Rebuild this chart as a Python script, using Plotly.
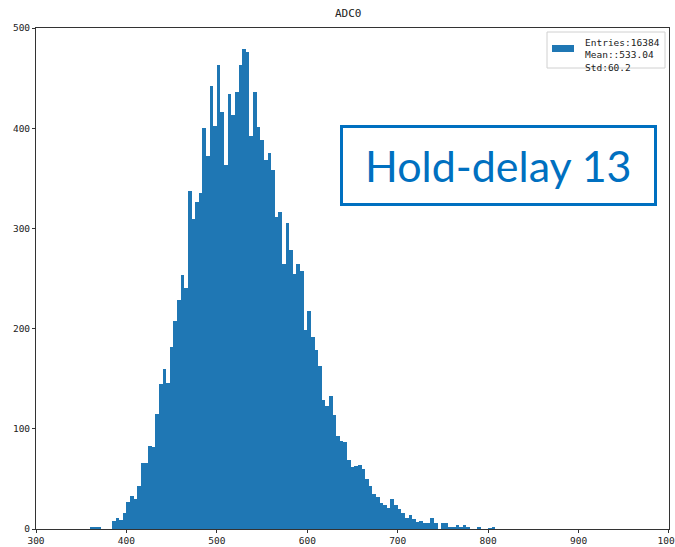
import plotly.graph_objects as go

# Histogram data (ADC0)
bin_start = 360
bin_width = 4
counts = [2, 2, 2, 0, 0, 0,
          8, 11, 9, 16, 27, 33, 30, 43, 66, 66, 83, 82, 115, 145, 160, 146,
          182, 208, 229, 254, 241, 337, 309, 326, 335, 400, 372, 442, 402, 463,
          416, 363, 434, 413, 436, 463, 479, 476, 392, 436, 401, 388, 368, 375,
          358, 311, 316, 264, 305, 278, 255, 264, 257, 199, 218, 192, 179, 163,
          129, 123, 133, 114, 93, 88, 87, 69, 62, 63, 64, 60, 50, 43, 35, 32,
          26, 24, 21, 30, 24, 20, 16, 11, 14, 10, 7, 8, 6, 6, 11, 6, 0, 6, 6,
          2, 2, 4, 2, 4, 2, 0, 0, 2, 0, 0, 1, 2]
centers = [bin_start + bin_width * (i + 0.5) for i in range(len(counts))]

title = "ADC0"
legend_lines = ["Entries:16384", "Mean::533.04", "Std:60.2"]
box_text = "Hold-delay 13"
x_ticks = [300, 400, 500, 600, 700, 800, 900, 1000]
y_ticks = [0, 100, 200, 300, 400, 500]

BLUE = "#1f77b4"
MONO = "DejaVu Sans Mono"

fig = go.Figure()
fig.add_trace(go.Bar(x=centers, y=counts, width=bin_width,
                     marker=dict(color=BLUE, line=dict(width=0)),
                     showlegend=False))

W, H = 675, 547
ml, mr, mt, mb = 36, 6, 28, 18
pw, ph = W - ml - mr, H - mt - mb

def px(x):
    return (x - ml) / pw

def py(y):
    return 1 - (y - mt) / ph

shapes = []
# legend frame
shapes.append(dict(type="rect", xref="paper", yref="paper",
                   x0=px(547), x1=px(665), y0=py(68), y1=py(32),
                   line=dict(color="#d0d0d0", width=1), fillcolor="white"))
# legend patch
shapes.append(dict(type="rect", xref="paper", yref="paper",
                   x0=px(552), x1=px(574), y0=py(52), y1=py(45),
                   line=dict(width=0), fillcolor=BLUE))
# Hold-delay box
shapes.append(dict(type="rect", xref="paper", yref="paper",
                   x0=px(341.5), x1=px(655.5), y0=py(204.5), y1=py(126.5),
                   line=dict(color="#0070C0", width=3), fillcolor="white"))

annotations = [
    dict(text="<br>".join(legend_lines), xref="paper", yref="paper",
         x=px(583), y=py(35), xanchor="left", yanchor="top", showarrow=False,
         align="left", font=dict(family=MONO, size=9.5, color="#222")),
    dict(text=box_text, xref="paper", yref="paper",
         x=px(498.5), y=py(165.5), xanchor="center", yanchor="middle",
         showarrow=False, font=dict(family="Lato", size=43, color="#0070C0")),
    dict(text=title, xref="paper", yref="paper", x=px(348), y=py(13),
         xanchor="center", yanchor="middle", showarrow=False,
         font=dict(family=MONO, size=11, color="#222")),
]

fig.update_layout(
    width=W, height=H,
    margin=dict(l=ml, r=mr, t=mt, b=mb, pad=0, autoexpand=False),
    paper_bgcolor="white", plot_bgcolor="white",
    bargap=0,
    font=dict(family=MONO, size=9.5, color="#222"),
    shapes=shapes, annotations=annotations,
    xaxis=dict(range=[299.99, 1000.01], tickvals=x_ticks, ticks="outside", ticklen=3,
               tickcolor="#333", showline=True, linecolor="#333", linewidth=1,
               mirror=True, showgrid=False, zeroline=False, automargin=False,
               ticklabeloverflow="allow"),
    yaxis=dict(range=[0, 500.01], tickvals=y_ticks, ticks="outside", ticklen=3,
               tickcolor="#333", showline=True, linecolor="#333", linewidth=1,
               mirror=True, showgrid=False, zeroline=False, automargin=False,
               ticklabeloverflow="allow"),
)

fig.write_html("out.html")
